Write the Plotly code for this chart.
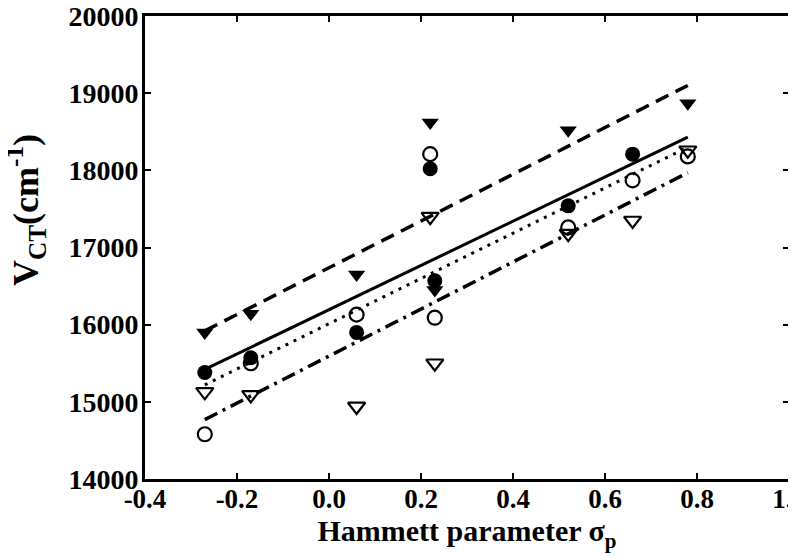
import plotly.graph_objects as go

# ---------- data ----------
sigma = [-0.27, -0.17, 0.06, 0.22, 0.23, 0.52, 0.66, 0.78]

# filled circles
fc_x = [-0.27, -0.17, 0.06, 0.22, 0.23, 0.52, 0.66]
fc_y = [15380, 15570, 15900, 18020, 16570, 17540, 18210]
# open circles
oc_x = [-0.27, -0.17, 0.06, 0.22, 0.23, 0.52, 0.66, 0.78]
oc_y = [14580, 15500, 16130, 18210, 16090, 17260, 17870, 18180]
# filled triangles
ft_x = [-0.27, -0.17, 0.06, 0.22, 0.23, 0.52, 0.78]
ft_y = [15900, 16140, 16650, 18620, 16450, 18520, 18870]
# open triangles
ot_x = [-0.27, -0.17, 0.06, 0.22, 0.23, 0.52, 0.66, 0.78]
ot_y = [15130, 15090, 14940, 17400, 15500, 17180, 17350, 18260]

# fitted lines (end points)
fit_x = [-0.27, 0.78]
fit_solid = [15420, 18430]
fit_dash = [15920, 19100]
fit_dot = [15220, 18300]
fit_dashdot = [14770, 17970]

x_ticks = [-0.4, -0.2, 0.0, 0.2, 0.4, 0.6, 0.8, 1.0]
y_ticks = [14000, 15000, 16000, 17000, 18000, 19000, 20000]

FONT = "Liberation Serif"

fig = go.Figure()

# ---------- lines ----------
for ys, dash, w in [(fit_solid, "solid", 3),
                    (fit_dash, "14px,8px", 3.5),
                    (fit_dot, "3px,6px", 3),
                    (fit_dashdot, "14px,6px,3px,6px", 3.5)]:
    fig.add_trace(go.Scatter(x=fit_x, y=ys, mode="lines",
                             line=dict(color="black", width=w, dash=dash),
                             showlegend=False))

# ---------- markers ----------
fig.add_trace(go.Scatter(x=fc_x, y=fc_y, mode="markers",
                         marker=dict(symbol="circle", size=15, color="black"),
                         showlegend=False))
fig.add_trace(go.Scatter(x=ft_x, y=ft_y, mode="markers",
                         marker=dict(symbol="triangle-down", size=15, color="black"),
                         showlegend=False))
fig.add_trace(go.Scatter(x=oc_x, y=oc_y, mode="markers",
                         marker=dict(symbol="circle-open", size=14, color="black",
                                     line=dict(width=2.2)),
                         showlegend=False))
fig.add_trace(go.Scatter(x=ot_x, y=ot_y, mode="markers",
                         marker=dict(symbol="triangle-down-open", size=15, color="black",
                                     line=dict(width=2.2)),
                         showlegend=False))

axis_common = dict(showgrid=False, zeroline=False, showline=True, linecolor="black",
                   linewidth=3, mirror="ticks", ticks="inside", ticklen=6,
                   tickwidth=2, tickcolor="black", ticklabeloverflow="allow",
                   automargin=False)

fig.update_xaxes(range=[-0.4, 1.0], tickvals=x_ticks,
                 ticktext=["<b>%.1f</b>" % v for v in x_ticks],
                 ticklabelstandoff=-6,
                 tickfont=dict(family=FONT, size=27, color="black"),
                 title=dict(text="<b>Hammett parameter σ<sub>p</sub></b>",
                            font=dict(family=FONT, size=30, color="black"), standoff=4),
                 **axis_common)
fig.update_yaxes(range=[14000, 20000], tickvals=y_ticks,
                 ticktext=["<b>%d</b>" % v for v in y_ticks],
                 ticklabelstandoff=-2,
                 tickfont=dict(family=FONT, size=28, color="black"),
                 **axis_common)

# y title as annotation so it can sit a bit above the centre, as in the original
fig.add_annotation(text="<b>V<sub>CT</sub>(cm<sup>-1</sup>)</b>",
                   xref="paper", yref="paper", x=-0.184, y=0.58,
                   xanchor="center", yanchor="middle", textangle=-90,
                   showarrow=False, font=dict(family=FONT, size=36, color="black"))

fig.update_layout(width=796, height=556, plot_bgcolor="white", paper_bgcolor="white",
                  margin=dict(l=137, r=15, t=8, b=85))

fig.write_html("out.html")
